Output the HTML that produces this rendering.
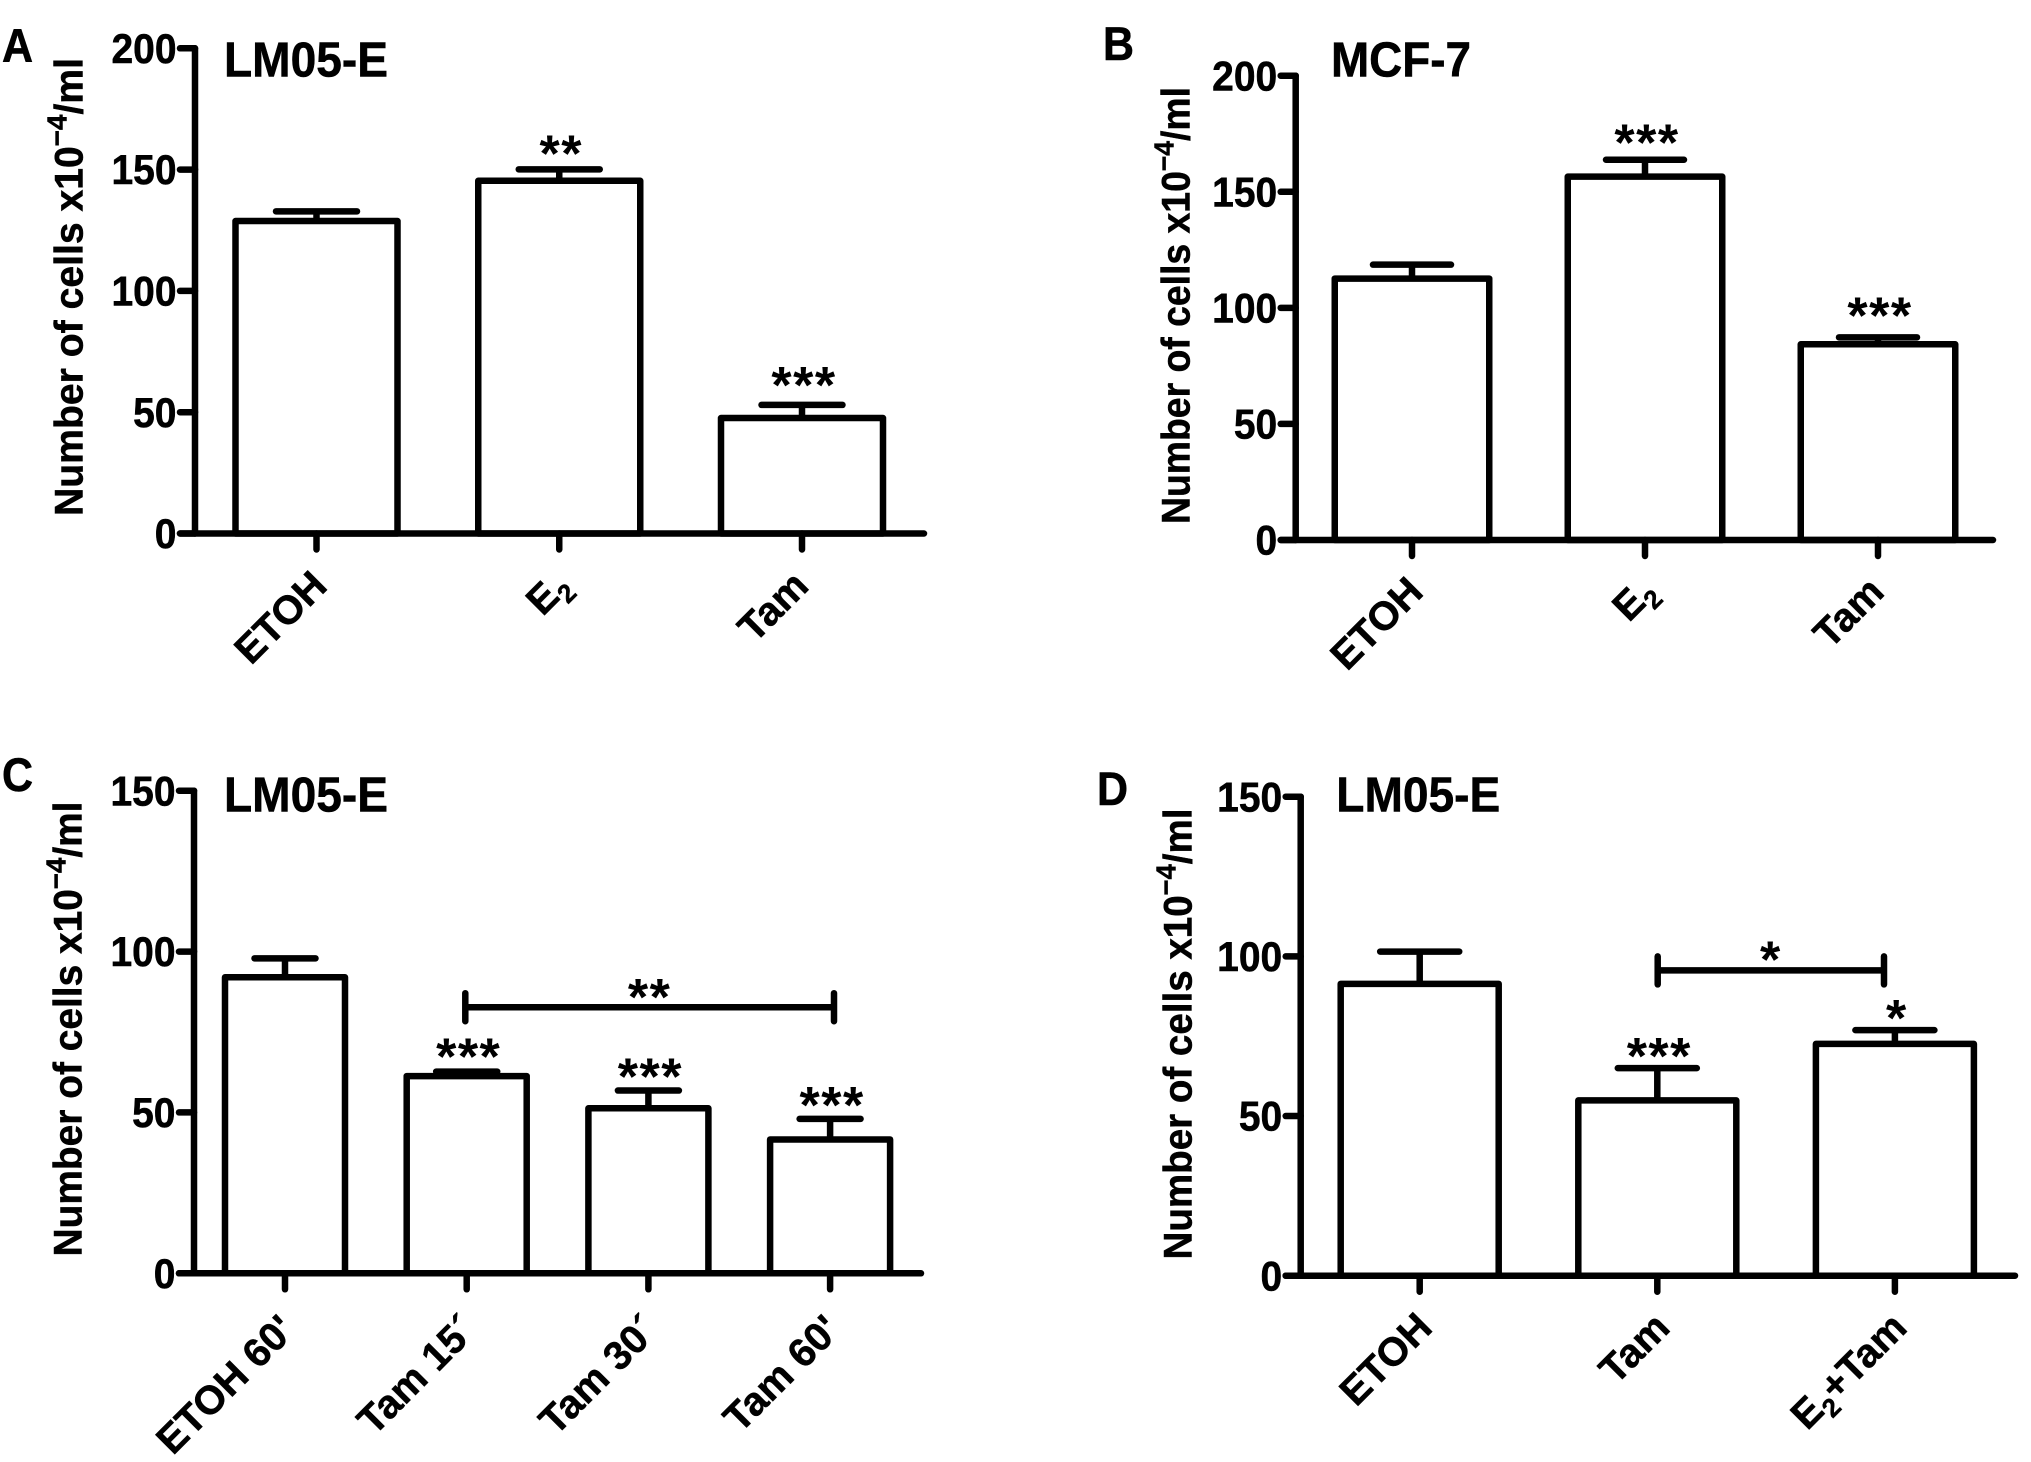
<!DOCTYPE html>
<html lang="en">
<head>
<meta charset="utf-8">
<title>Number of cells bar charts</title>
<style>
  html, body { margin: 0; padding: 0; background: #fff; }
  svg { display: block; }
  text { font-family: "Liberation Sans", Arial, sans-serif; font-weight: bold; fill: #000; stroke: #000; stroke-width: 0.5; }
  text.star { stroke-width: 0; letter-spacing: 1.5px; }
</style>
</head>
<body>
<svg id="figure" xmlns="http://www.w3.org/2000/svg" width="2031" height="1462" viewBox="0 0 2031 1462"></svg>
<script>
// Panel A data
const categoriesA = ["ETOH", "E_2", "Tam"];
const meansA = [128.8, 145.4, 47.6];
const errorsA = [4, 4.7, 5.4];
const starsA = ["", "**", "***"];
const ticksA = [0, 50, 100, 150, 200];

// Panel B data
const categoriesB = ["ETOH", "E_2", "Tam"];
const meansB = [112.6, 156.5, 84.3];
const errorsB = [6, 7.3, 3];
const starsB = ["", "***", "***"];
const ticksB = [0, 50, 100, 150, 200];

// Panel C data
const categoriesC = ["ETOH 60'", "Tam 15´", "Tam 30´", "Tam 60'"];
const meansC = [92, 61.3, 51.3, 41.6];
const errorsC = [5.9, 1.4, 5.5, 6.4];
const starsC = ["", "***", "***", "***"];
const ticksC = [0, 50, 100, 150];
const bracketLevelC = 82.7;
const bracketLabelC = "**";

// Panel D data
const categoriesD = ["ETOH", "Tam", "E_2+Tam"];
const meansD = [91.4, 54.9, 72.6];
const errorsD = [10.1, 10.1, 4.3];
const starsD = ["", "***", "*"];
const ticksD = [0, 50, 100, 150];
const bracketLevelD = 95.6;
const bracketLabelD = "*";

const svg = document.getElementById('figure');
const NS = 'http://www.w3.org/2000/svg';
const STROKE = 6.5;
const STAR_MID = 24; // asterisk centre above its baseline

function mk(parent, tag, attrs, txt) {
  const el = document.createElementNS(NS, tag);
  for (const k in attrs) el.setAttribute(k, attrs[k]);
  if (txt !== undefined) el.textContent = txt;
  parent.appendChild(el);
  return el;
}

function line(parent, x1, y1, x2, y2, cap) {
  return mk(parent, 'line', { x1, y1, x2, y2, stroke: '#000', 'stroke-width': STROKE, 'stroke-linecap': cap || 'round' });
}

function stretched(x, y, sy) {
  return `translate(${x} ${y}) scale(1 ${sy})`;
}

function drawPanel(p) {
  const g = mk(svg, 'g', {});
  
  

  const maxTick = p.ticks[p.ticks.length - 1];
  const yScale = v => p.y0 + (p.yTop - p.y0) * v / maxTick;
  const xScale = i => p.firstX + p.stepX * i;

  // bars and error bars
  p.categories.forEach((cat, i) => {
    const cx = xScale(i);
    const top = yScale(p.means[i]);
    const errTop = yScale(p.means[i] + p.errors[i]);

    const whisker = line(g, cx, top, cx, errTop, 'butt');
    
    

    const cap = line(g, cx - p.capW / 2, errTop, cx + p.capW / 2, errTop);
    
    

    const bar = mk(g, 'rect', { x: cx - p.barW / 2, y: top, width: p.barW, height: p.y0 - top, fill: '#fff', stroke: '#000', 'stroke-width': STROKE, 'stroke-linejoin': 'round' });
    
    

    if (p.stars[i]) {
      const star = mk(g, 'text', { class: 'star', x: cx + 2, y: errTop - p.starGap[i] + STAR_MID, 'text-anchor': 'middle', 'font-size': 52 }, p.stars[i]);
      
      
    }

    const tick = line(g, cx, p.y0, cx, p.y0 + 16);
    
    

    const lx = cx + p.labelShift[i];
    const ly = p.y0 + p.labelDrop;
    const label = mk(g, 'text', { x: lx, y: ly, 'text-anchor': 'end', 'font-size': 40, transform: `rotate(-45 ${lx} ${ly})` });
    
    
    const parts = cat.split('_');
    mk(label, 'tspan', {}, parts[0]);
    if (parts.length > 1) {
      mk(label, 'tspan', { 'font-size': 26, dy: 9 }, parts[1].charAt(0));
      if (parts[1].length > 1) mk(label, 'tspan', { dy: -9 }, parts[1].slice(1));
    }
  });

  // axes
  const yAxis = line(g, p.axisX, p.yTop, p.axisX, p.y0);
  
  
  const xAxis = line(g, p.axisX - 15, p.y0, p.xEnd, p.y0);
  
  

  p.ticks.forEach(v => {
    const y = yScale(v);
    const t = line(g, p.axisX - 15, y, p.axisX, y);
    
    
    const lab = mk(g, 'text', { 'text-anchor': 'end', 'font-size': 39, transform: stretched(p.axisX - 18.5, y + 14.6, 1.08) }, String(v));
    
    
  });

  // y-axis title
  const title = mk(g, 'text', {
    'text-anchor': 'middle', 'font-size': 39.5,
    transform: `translate(${p.titleX} ${p.titleY}) rotate(-90)`,
    textLength: p.titleLen, lengthAdjust: 'spacingAndGlyphs'
  });
  
  
  mk(title, 'tspan', {}, 'Number of cells x10');
  mk(title, 'tspan', { 'font-size': 28, dy: -16 }, '\u22124');
  mk(title, 'tspan', { dy: 16 }, '/ml');

  // panel letter and heading
  const letter = mk(g, 'text', { 'font-size': 43, transform: stretched(p.letterX, p.letterY, 1.1) }, p.id);
  
  
  const head = mk(g, 'text', { 'font-size': 45.5, textLength: p.headLen, lengthAdjust: 'spacingAndGlyphs', transform: stretched(p.headX, p.headY, 1.09) }, p.head);
  
  

  // significance bracket
  if (p.bracketLevel !== undefined) {
    const by = yScale(p.bracketLevel);
    const bx1 = p.bracketX1;
    const bx2 = p.bracketX2;
    const b = line(g, bx1, by, bx2, by, 'butt');
    
    
    const e1 = line(g, bx1, by - 14, bx1, by + 14);
    
    
    const e2 = line(g, bx2, by - 14, bx2, by + 14);
    
    
    const bl = mk(g, 'text', { class: 'star', x: (bx1 + bx2) / 2, y: by - p.bracketGap + STAR_MID, 'text-anchor': 'middle', 'font-size': 52 }, p.bracketLabel);
    
    
  }
}

drawPanel({
  id: 'A', categories: categoriesA, means: meansA, errors: errorsA, stars: starsA, ticks: ticksA,
  axisX: 195, xEnd: 924, yTop: 48.3, y0: 533.5,
  firstX: 316.5, stepX: 242.75, barW: 162, capW: 81, starGap: [0, 22, 26], labelShift: [12.5, 12.5, 8.5], labelDrop: 54.5,
  titleX: 82.5, titleY: 287, titleLen: 458,
  letterX: 2, letterY: 62, head: 'LM05-E', headX: 224, headY: 76.7, headLen: 164
});
drawPanel({
  id: 'B', categories: categoriesB, means: meansB, errors: errorsB, stars: starsB, ticks: ticksB,
  axisX: 1295.7, xEnd: 1993, yTop: 75.7, y0: 540,
  firstX: 1412, stepX: 233, barW: 154.5, capW: 78, starGap: [0, 23, 28], labelShift: [13, 13, 8], labelDrop: 54,
  titleX: 1189.7, titleY: 305.5, titleLen: 437,
  letterX: 1103, letterY: 60, head: 'MCF-7', headX: 1331, headY: 76.7, headLen: 140
});
drawPanel({
  id: 'C', categories: categoriesC, means: meansC, errors: errorsC, stars: starsC, ticks: ticksC,
  axisX: 194, xEnd: 921, yTop: 790.7, y0: 1273.3,
  firstX: 285, stepX: 181.7, barW: 120, capW: 61, starGap: [0, 21, 20, 20], labelShift: [12, 12, 12, 12], labelDrop: 58.7,
  titleX: 81.5, titleY: 1029, titleLen: 455,
  letterX: 2, letterY: 791, head: 'LM05-E', headX: 224, headY: 811.7, headLen: 164,
  bracketLevel: bracketLevelC, bracketLabel: bracketLabelC, bracketX1: 465.3, bracketX2: 834, bracketGap: 16
});
drawPanel({
  id: 'D', categories: categoriesD, means: meansD, errors: errorsD, stars: starsD, ticks: ticksD,
  axisX: 1300.7, xEnd: 2015, yTop: 796.7, y0: 1275.7,
  firstX: 1419.7, stepX: 237.6, barW: 158, capW: 79, starGap: [0, 18, 18], labelShift: [14.5, 14.5, 14], labelDrop: 54,
  titleX: 1191.5, titleY: 1034, titleLen: 451,
  letterX: 1097, letterY: 805, head: 'LM05-E', headX: 1336.3, headY: 811.7, headLen: 164,
  bracketLevel: bracketLevelD, bracketLabel: bracketLabelD, bracketX1: 1657.7, bracketX2: 1884, bracketGap: 17
});
</script>
</body>
</html>
